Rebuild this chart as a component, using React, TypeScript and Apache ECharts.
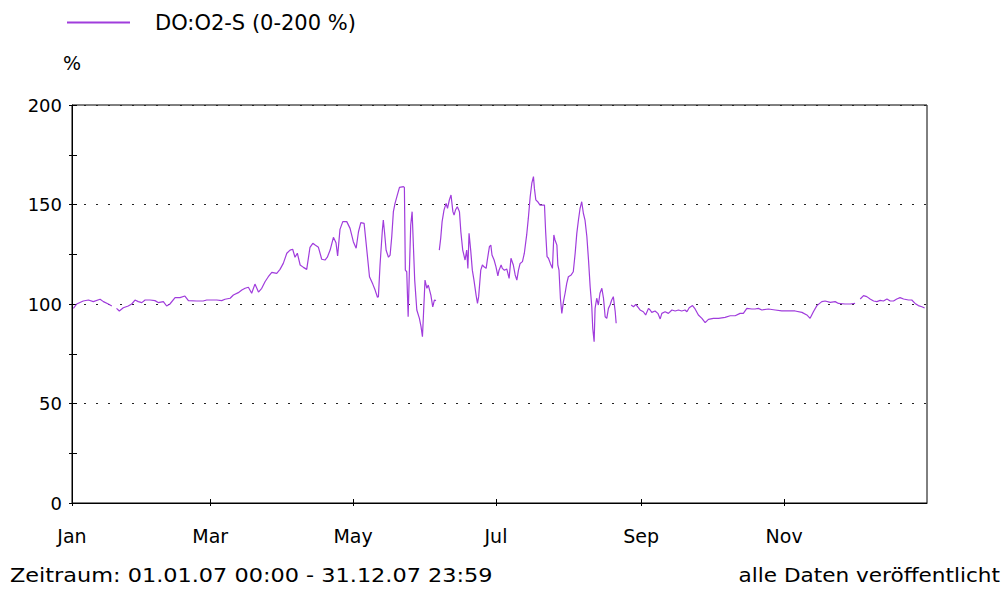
import React, { useEffect, useRef } from "react";
import * as echarts from "echarts";

const SERIES_NAME = "DO:O2-S (0-200 %)";
const UNIT = "%";
const PERIOD_TEXT = "Zeitraum: 01.01.07 00:00 - 31.12.07 23:59";
const STATUS_TEXT = "alle Daten veröffentlicht";

// tick positions (day of year 2007) and their labels
const MONTH_DAYS = [0, 59, 120, 181, 243, 304];
const MONTH_LABELS = ["Jan", "Mar", "May", "Jul", "Sep", "Nov"];
const Y_LABEL_TICKS = [0, 50, 100, 150, 200];

// day of year (0 = 1 Jan 2007) and O2 saturation in %; null = no data
const DAYS = [
  0.6, 2, 4.8, 7, 9.1, 12, 13.4, 15.5, 17, 18,
  19, 20.2, 21.9, 24, 25.5, 26.9, 28.3, 29.8, 31.2, 33.3,
  35.4, 36.8, 39, 40.4, 41.8, 44, 46.1, 48.2, 49.7, 53.2,
  56, 57.5, 61.8, 63.9, 65.3, 67.5, 68.9, 71, 72.5, 73.9,
  75.3, 76.7, 78.1, 79.6, 81, 82.4, 83.8, 85.3, 87.4, 88.8,
  90.2, 91.7, 93.1, 94.2, 95.2, 96.2, 97.4, 98.8, 100.2, 101.6,
  102.8, 103.8, 105.2, 106.6, 108, 109, 110.2, 111.6, 112.7, 113.4,
  114.4, 115.6, 117.3, 118.7, 120.1, 121.3, 122.3, 123.3, 124.7, 125.5,
  127, 128.4, 129.4, 130.4, 130.8, 131.5, 132.5, 132.9, 133.4, 134.1,
  135.1, 135.8, 136.5, 137.2, 137.9, 138.9, 139.8, 141.5, 141.9, 142.3,
  142.9, 143.5, 144, 144.6, 145.2, 145.7, 146.3, 147.2, 148.3, 149,
  149.6, 150, 150.7, 151.5, 152.1, 153.2, 154, 154.7, 155.4, 156,
  156.8, 157.4, 158, 158.8, 159.7, 160.3, 161.1, 161.8, 162.6, 163.1,
  163.7, 164.5, 165.4, 166, 166.8, 167.8, 168.5, 169, 169.5, 170.2,
  170.9, 171.6, 172.5, 173.1, 173.6, 174.5, 175.2, 175.9, 176.8, 177.3,
  178.2, 178.8, 179.3, 180.2, 181, 181.8, 182.3, 183.2, 183.7, 184.6,
  185.6, 186.6, 187.4, 188.4, 189.2, 189.9, 190.6, 191.3, 192.3, 193.1,
  194.1, 194.8, 195.6, 196.3, 197, 197.4, 198, 198.8, 199.8, 201.7,
  202.2, 202.8, 203.4, 204.2, 205.1, 205.7, 206.2, 207, 207.4, 207.9,
  208.5, 209.1, 209.8, 210.5, 211.2, 211.9, 213.1, 214, 214.8, 215.5,
  216.2, 216.9, 217.6, 218.3, 219, 219.8, 220.5, 221.2, 221.9, 222.3,
  222.9, 223.3, 224, 224.7, 225.4, 226.2, 226.9, 227.6, 228.3, 229,
  229.7, 230.4, 231.1, 231.9, 232.3, 235,
  238.7, 239.7, 240.7, 241.5, 242.5, 243.9, 244.9, 246.1, 246.8, 247.5,
  248.9, 250.1, 251.1, 251.8, 253.2, 254.6, 256.1, 257.5, 258.9, 260.3,
  261.7, 262.5, 263.5, 264.9, 266, 267.4, 268.9, 270.3, 271.7, 273.8,
  276, 278.8, 281, 283.1, 285.2, 286.6, 288.1, 290.2, 291.6, 293,
  294.5, 297.3, 300.2, 303, 305.9, 308.7, 311.6, 313.7, 315.1, 316.5,
  318, 320.1, 321.5, 323.7, 325.8, 327.2, 330, 332.2, 334.3, 335.4,
  336.5, 337.9, 339.3, 340.7, 342.2, 343.6, 345, 346.4, 347.9, 349.3,
  350.7, 352.1, 353.5, 355, 357.1, 358.5, 359.9, 361.3, 362.8, 364,
];

const O2_SAT = [
  97.8, 100, 101.5, 102, 101.2, 102.4, 101.2, 100, 99, null,
  97.8, 96.5, 98.1, 99, 100, 102, 101.2, 100.7, 102, 102,
  101.7, 100.7, 101.2, 99, 100, 103.2, 103.2, 104, 101.7, 101.5,
  101.5, 102, 102, 101.7, 102.4, 102.9, 104.5, 105.7, 107, 107.9,
  108.4, 105.4, 110, 106, 107.9, 111.2, 113.7, 115.9, 115.4, 117.4,
  120.4, 125.5, 127.1, 127.5, 123.5, 125.5, 119.6, 118.4, 117.4, 128.5,
  130.5, 129.6, 128.5, 122.5, 122.1, 123.5, 127.1, 133.5, 130.8, 124.1,
  137.5, 141.4, 141.4, 138, 131.3, 128, 136.3, 140.9, 140.5, 131.3,
  113.7, 110, 107, 103.4, 103.7, 119.6, 137.2, 142.2, 136.3, 127,
  123.5, 124.6, 133.8, 146.4, 150.6, 154.8, 158.6, 159, 158.6, 117,
  116.2, 93.6, 115.4, 139.7, 146.4, 130.5, 112, 97, 92.8, 88.6,
  83.6, 93.6, 112, 107.9, 109.5, 104.5, 98.6, 102, 101.7, null,
  127.1, 133, 141.4, 147.2, 150.6, 148.1, 152.3, 154.8, 146.4, 144.7,
  147.2, 148.9, 146.4, 136.3, 127.1, 122.1, 127.1, 117.9, 135.5, 127.1,
  117, 112, 104.5, 100.3, 103.7, 117, 119.6, 118.7, 117.9, 122.1,
  128.8, 129.6, 124.6, 122.1, 118.7, 114.1, 117, 119.6, 117.9, 117,
  117.6, 112.9, 123, 119.6, 114.6, 112, 117, 120.4, 121.3, 125.5,
  134.7, 143, 153.9, 160.7, 164, 158.1, 152.3, 151.4, 149.7, 149.7,
  136.3, 123.8, 123, 120.4, 117.9, 134.7, 132.2, 129.6, 119.6, 117,
  102.9, 95.3, 101.2, 105.4, 110.4, 113.7, 114.6, 116.2, 125.5, 135.5,
  142.2, 148.1, 151.4, 145.6, 142.2, 133.8, 122.1, 108.7, 98.6, 87.8,
  81.1, 97.8, 102.9, 99.5, 105.4, 107.9, 102.9, 93.6, 92.8, 97.8,
  99.5, 102, 103.7, 96.1, 90.3, null,
  99.5, 98.6, 99.8, 98.6, 97, 96.1, 94.5, 97.8, 97, 95.8,
  96.5, 95.3, 92.5, 95.3, 96.1, 95.3, 97, 96.5, 97, 96.5,
  97, 96.1, 98.1, 99.2, 97.5, 94.5, 92.8, 90.6, 92.3, 92.8,
  92.8, 93.3, 94.1, 94.1, 95.3, 95.3, 97.8, 97.5, 97.5, 97.8,
  97, 97.5, 97, 96.5, 96.5, 96.5, 95.8, 94.5, 92.8, 96.1,
  99.2, 101.2, 101.5, 100.8, 101.2, 100.3, 100, 100, 100.3, null,
  102.5, 104.2, 103.7, 102.5, 101.5, 101.2, 101.8, 101.5, 102.5, 101.5,
  101.5, 102.5, 103.2, 102.5, 102, 102, 100.3, 99.2, 98.6, 98,
];

const LINE_COLOR = "#a03cdc";
const FONT = "DejaVu Sans";

export default function App() {
  const ref = useRef<HTMLDivElement>(null);

  useEffect(() => {
    if (!ref.current) return;
    const chart = echarts.init(ref.current, null, { renderer: "svg" });
    const data = DAYS.map((d, i) => [d, O2_SAT[i] === null ? "-" : O2_SAT[i]]);

    const xBase = {
      type: "value" as const,
      min: 0,
      max: 365,
      position: "bottom" as const,
      splitLine: { show: false },
    };
    const yBase = {
      type: "value" as const,
      min: 0,
      max: 200,
      position: "left" as const,
    };

    chart.setOption({
      animation: false,
      backgroundColor: "#fff",
      textStyle: { fontFamily: FONT, color: "#000" },
      grid: {
        left: 72,
        right: 79,
        top: 105,
        bottom: 87,
        show: true,
        borderColor: "#000",
        borderWidth: 1,
        backgroundColor: "transparent",
      },
      legend: {
        data: [SERIES_NAME],
        left: 62,
        top: 7,
        icon: "rect",
        itemWidth: 63,
        itemHeight: 2,
        textStyle: {
          fontFamily: FONT,
          fontSize: 21,
          color: "#000",
          padding: [0, 0, 0, 20],
        },
      },
      xAxis: [
        {
          ...xBase,
          axisLine: { show: true, lineStyle: { color: "#000", width: 1 } },
          axisTick: {
            show: true,
            length: 3,
            customValues: MONTH_DAYS,
            lineStyle: { color: "#000" },
          },
          axisLabel: {
            show: true,
            customValues: MONTH_DAYS,
            formatter: (v: number) => {
              const i = MONTH_DAYS.indexOf(Math.round(v));
              return i >= 0 ? MONTH_LABELS[i] : "";
            },
            margin: 23,
            fontFamily: FONT,
            fontSize: 19,
            color: "#000",
          },
        },
        {
          ...xBase,
          axisLine: { show: false },
          axisTick: {
            show: true,
            inside: true,
            length: 4,
            customValues: MONTH_DAYS,
            lineStyle: { color: "#000" },
          },
          axisLabel: { show: false },
        },
      ],
      yAxis: [
        {
          ...yBase,
          interval: 50,
          name: UNIT,
          nameLocation: "end",
          nameGap: 33,
          nameTextStyle: { fontFamily: FONT, fontSize: 19, color: "#000" },
          axisLine: { show: true, lineStyle: { color: "#000", width: 1 } },
          axisTick: { show: false },
          axisLabel: {
            customValues: Y_LABEL_TICKS,
            margin: 10,
            fontFamily: FONT,
            fontSize: 18,
            color: "#000",
          },
          splitLine: {
            show: true,
            lineStyle: { color: "#222", width: 1, type: [2, 10] },
          },
        },
        {
          ...yBase,
          interval: 25,
          axisLine: { show: false },
          axisTick: { show: true, length: 3, lineStyle: { color: "#000" } },
          axisLabel: { show: false },
          splitLine: { show: false },
        },
        {
          ...yBase,
          interval: 25,
          axisLine: { show: false },
          axisTick: { show: true, inside: true, length: 5, lineStyle: { color: "#000" } },
          axisLabel: { show: false },
          splitLine: { show: false },
        },
      ],
      series: [
        {
          name: SERIES_NAME,
          type: "line",
          xAxisIndex: 0,
          yAxisIndex: 0,
          data,
          showSymbol: false,
          connectNulls: false,
          lineStyle: { color: LINE_COLOR, width: 1.2 },
          itemStyle: { color: LINE_COLOR },
        },
      ],
      graphic: [
        {
          type: "text",
          x: 10,
          y: 575,
          scaleX: 1.12,
          style: {
            text: PERIOD_TEXT,
            fontFamily: FONT,
            fontSize: 20,
            fill: "#000",
            align: "left",
            verticalAlign: "middle",
          },
        },
        {
          type: "text",
          x: 1000,
          y: 575,
          scaleX: 1.08,
          style: {
            text: STATUS_TEXT,
            fontFamily: FONT,
            fontSize: 20,
            fill: "#000",
            align: "right",
            verticalAlign: "middle",
          },
        },
      ],
    });

    return () => chart.dispose();
  }, []);

  return (
    <div
      ref={ref}
      style={{ position: "fixed", left: 0, top: 0, width: 1006, height: 590 }}
    />
  );
}
